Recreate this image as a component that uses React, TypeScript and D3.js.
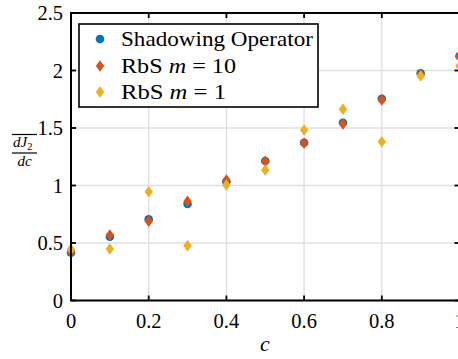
import React from "react";
import * as d3 from "d3";

const cValues = [0, 0.1, 0.2, 0.3, 0.4, 0.5, 0.6, 0.7, 0.8, 0.9, 1.0];
const shadowing = [0.415, 0.555, 0.706, 0.839, 1.033, 1.213, 1.372, 1.546, 1.755, 1.976, 2.126];
const rbsM10 = [0.42, 0.57, 0.69, 0.862, 1.048, 1.21, 1.367, 1.535, 1.743, 1.967, 2.12];
const rbsM1 = [0.445, 0.448, 0.946, 0.477, 1.004, 1.135, 1.483, 1.663, 1.381, 1.952, 2.039];
const xTicks = [0, 0.2, 0.4, 0.6, 0.8, 1];
const yTicks = [0, 0.5, 1, 1.5, 2, 2.5];
const xTickLabels = ["0", "0.2", "0.4", "0.6", "0.8", "1"];
const yTickLabels = ["0", "0.5", "1", "1.5", "2", "2.5"];

const W = 458, H = 359;
const FONT = "Liberation Serif, DejaVu Serif, serif";
const BLUE = "#0072BD", RED = "#D95319", YEL = "#EDB120";

function diamond(cx: number, cy: number, hw = 4.2, hh = 5.8) {
  return `M${cx},${cy - hh}L${cx + hw},${cy}L${cx},${cy + hh}L${cx - hw},${cy}Z`;
}

export default function App() {
  const x = d3.scaleLinear().domain([0, 1]).range([71, 459.5]);
  const y = d3.scaleLinear().domain([0, 2.5]).range([300.5, 13]);
  const [x0, x1] = x.range();
  const [y0, y1] = y.range();
  const tl = 5;
  return (
    <svg width={W} height={H} style={{ position: "absolute", left: 0, top: 0, background: "#fff" }}>
      <rect x={0} y={0} width={W} height={H} fill="#fff" />
      {xTicks.map((t) => (
        <line key={"gx" + t} x1={x(t)} x2={x(t)} y1={y0} y2={y1} stroke="#e0e0e0" strokeWidth={1.4} />
      ))}
      {yTicks.map((t) => (
        <line key={"gy" + t} x1={x0} x2={x1} y1={y(t)} y2={y(t)} stroke="#e0e0e0" strokeWidth={1.4} />
      ))}
      {cValues.map((c, i) => (
        <circle key={"b" + i} cx={x(c)} cy={y(shadowing[i])} r={4.3} fill={BLUE} />
      ))}
      {cValues.map((c, i) => (
        <path key={"r" + i} d={diamond(x(c), y(rbsM10[i]))} fill={RED} />
      ))}
      {cValues.map((c, i) => (
        <path key={"y" + i} d={diamond(x(c), y(rbsM1[i]))} fill={YEL} />
      ))}
      <rect x={x0} y={y1} width={x1 - x0} height={y0 - y1} fill="none" stroke="#000" strokeWidth={2} />
      {xTicks.map((t) => (
        <g key={"tx" + t}>
          <line x1={x(t)} x2={x(t)} y1={y0} y2={y0 - tl} stroke="#000" strokeWidth={1.8} />
          <line x1={x(t)} x2={x(t)} y1={y1} y2={y1 + tl} stroke="#000" strokeWidth={1.8} />
        </g>
      ))}
      {yTicks.map((t) => (
        <g key={"ty" + t}>
          <line x1={x0} x2={x0 + tl} y1={y(t)} y2={y(t)} stroke="#000" strokeWidth={1.8} />
          <line x1={x1} x2={x1 - tl} y1={y(t)} y2={y(t)} stroke="#000" strokeWidth={1.8} />
        </g>
      ))}
      {xTicks.map((t, i) => (
        <text key={"lx" + t} x={x(t)} y={328} textAnchor="middle" fontFamily={FONT} fontSize={20.5} fill="#000">
          {xTickLabels[i]}
        </text>
      ))}
      {yTicks.map((t, i) => (
        <text key={"ly" + t} x={63} y={y(t) + 7} textAnchor="end" fontFamily={FONT} fontSize={20.5} fill="#000">
          {yTickLabels[i]}
        </text>
      ))}
      <text x={265} y={351} textAnchor="middle" fontFamily={FONT} fontStyle="italic" fontSize={22} fill="#000">c</text>
      <g fontFamily={FONT} fill="#000">
        <line x1={12} x2={37} y1={134.5} y2={134.5} stroke="#000" strokeWidth={1.2} />
        <text x={13} y={147} fontSize={15} fontStyle="italic">dJ<tspan fontSize={10.5} fontStyle="normal" dy={3}>2</tspan></text>
        <line x1={12} x2={37} y1={153} y2={153} stroke="#000" strokeWidth={1.2} />
        <text x={24.5} y={166} fontSize={15} fontStyle="italic" textAnchor="middle">dc</text>
      </g>
      <rect x={79} y={24} width={239} height={83} fill="#fff" stroke="#000" strokeWidth={1.6} />
      <circle cx={100} cy={39} r={4.3} fill={BLUE} />
      <path d={diamond(100, 66)} fill={RED} />
      <path d={diamond(100, 92)} fill={YEL} />
      <g fontFamily={FONT} fontSize={21} fill="#000">
        <text x={121} y={46} textLength={192} lengthAdjust="spacingAndGlyphs">Shadowing Operator</text>
        <text x={121} y={73} textLength={115} lengthAdjust="spacingAndGlyphs">RbS <tspan fontStyle="italic">m</tspan> = 10</text>
        <text x={121} y={99} textLength={105} lengthAdjust="spacingAndGlyphs">RbS <tspan fontStyle="italic">m</tspan> = 1</text>
      </g>
    </svg>
  );
}
